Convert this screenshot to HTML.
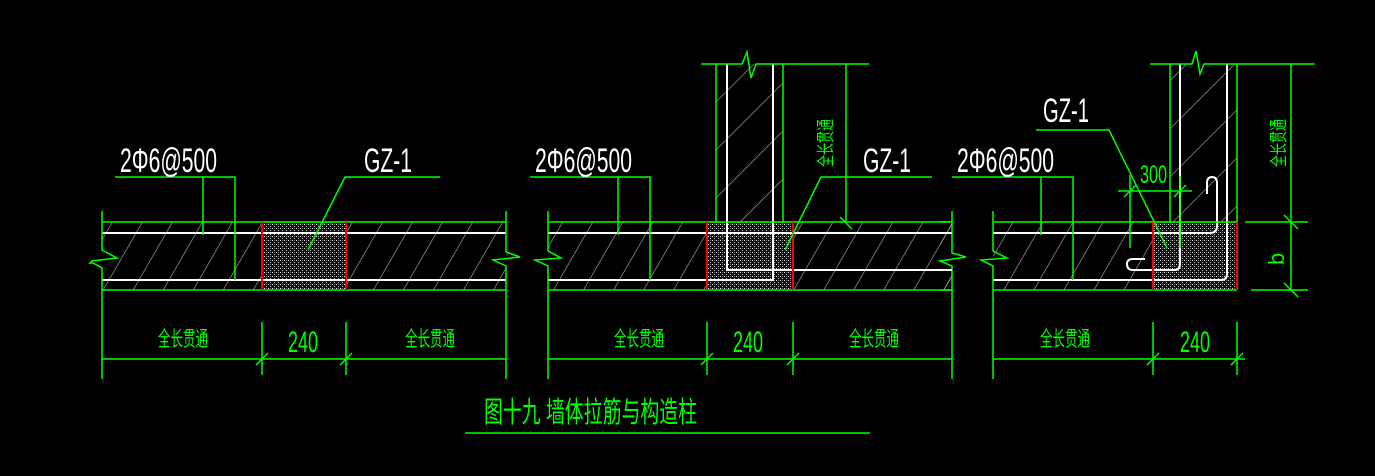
<!DOCTYPE html>
<html><head><meta charset="utf-8">
<style>
html,body{margin:0;padding:0;background:#000;}
svg{display:block;}
.g{stroke:#00ff00;stroke-width:1.5;fill:none;}
.w{stroke:#fff;stroke-width:2;fill:none;}
.r{stroke:#ff0000;stroke-width:2;fill:none;}
.tw{fill:#fff;font-family:"Liberation Sans",sans-serif;}
.tg{fill:#00ff00;font-family:"Liberation Sans","Noto Sans CJK SC",sans-serif;}
.tgl{fill:#00ff00;font-family:"Liberation Sans",sans-serif;}
</style></head>
<body>
<svg width="1375" height="476" viewBox="0 0 1375 476" xmlns="http://www.w3.org/2000/svg">
<defs>
<pattern id="hw" width="26" height="26" patternUnits="userSpaceOnUse" patternTransform="rotate(30)">
<line x1="0" y1="0" x2="0" y2="26" stroke="#a8a8a8" stroke-width="1.3"/>
</pattern>
<pattern id="hc" width="34" height="34" patternUnits="userSpaceOnUse" patternTransform="rotate(45)">
<line x1="0" y1="0" x2="0" y2="34" stroke="#a8a8a8" stroke-width="1.3"/>
</pattern>
<pattern id="st" width="4" height="4" patternUnits="userSpaceOnUse">
<rect width="4" height="4" fill="#111"/>
<rect x="0" y="0" width="1" height="1" fill="#ddd"/>
<rect x="2" y="2" width="1" height="1" fill="#bbb"/>
<rect x="2" y="0" width="1" height="1" fill="#666"/>
</pattern>
</defs>

<!-- ========== PANEL 1 ========== -->
<rect x="102" y="222" width="404" height="68" fill="url(#hw)"/>
<rect x="262" y="222" width="84" height="68" fill="url(#st)"/>
<line class="w" x1="102" y1="233" x2="506" y2="233"/>
<line class="w" x1="102" y1="280" x2="506" y2="280"/>
<line class="g" x1="102" y1="222" x2="506" y2="222"/>
<line class="g" x1="102" y1="290" x2="506" y2="290"/>
<line class="r" x1="262" y1="222" x2="262" y2="290"/>
<line class="r" x1="346" y1="222" x2="346" y2="290"/>
<polyline class="g" points="102,211 102,250 117,258 92,261 90,263 93,263 102,268 102,379"/>
<polyline class="g" points="506,211 506,252 520,257 493,260 506,266 506,379"/>
<line class="g" x1="102" y1="359" x2="506" y2="359"/>
<line class="g" x1="262" y1="322" x2="262" y2="375"/>
<line class="g" x1="346" y1="322" x2="346" y2="375"/>
<line class="g" x1="256" y1="365" x2="268" y2="353"/>
<line class="g" x1="340" y1="365" x2="352" y2="353"/>
<text class="tg" x="158" y="346" font-size="21" textLength="50" lengthAdjust="spacingAndGlyphs">全长贯通</text>
<text class="tg" x="405" y="346" font-size="21" textLength="50" lengthAdjust="spacingAndGlyphs">全长贯通</text>
<text class="tgl" x="288" y="352" font-size="30" textLength="30" lengthAdjust="spacingAndGlyphs">240</text>
<polyline class="g" points="115,177 235,177 235,280"/>
<line class="g" x1="203" y1="177" x2="203" y2="235"/>
<text class="tw" x="120" y="172" font-size="34" textLength="97" lengthAdjust="spacingAndGlyphs">2Φ6@500</text>
<polyline class="g" points="440,177 345,177 308,250"/>
<text class="tw" x="364" y="172" font-size="34" textLength="48" lengthAdjust="spacingAndGlyphs">GZ-1</text>

<!-- ========== PANEL 2 ========== -->
<rect x="548" y="222" width="404" height="68" fill="url(#hw)"/>
<rect x="716" y="64" width="67" height="158" fill="url(#hc)"/>
<rect x="707" y="222" width="86" height="68" fill="url(#st)"/>
<line class="w" x1="548" y1="233" x2="952" y2="233"/>
<polyline class="w" points="548,280 773,280 773,64"/>
<polyline class="w" points="727,64 727,270 952,270"/>
<line class="g" x1="548" y1="222" x2="952" y2="222"/>
<line class="g" x1="548" y1="290" x2="952" y2="290"/>
<line class="r" x1="707" y1="222" x2="707" y2="290"/>
<line class="r" x1="793" y1="222" x2="793" y2="290"/>
<line class="g" x1="716" y1="64" x2="716" y2="222"/>
<line class="g" x1="783" y1="64" x2="783" y2="222"/>
<polyline class="g" points="701,64 742,64 747,52 751,78 756,64 869,64"/>
<line class="g" x1="846" y1="64" x2="846" y2="222"/>
<line class="g" x1="840" y1="217" x2="852" y2="229"/>
<polyline class="g" points="548,211 548,251 561,258 535,260 548,266 548,379"/>
<polyline class="g" points="952,211 952,253 966,257 940,261 952,266 952,379"/>
<line class="g" x1="548" y1="359" x2="952" y2="359"/>
<line class="g" x1="707" y1="322" x2="707" y2="375"/>
<line class="g" x1="793" y1="322" x2="793" y2="375"/>
<line class="g" x1="701" y1="365" x2="713" y2="353"/>
<line class="g" x1="787" y1="365" x2="799" y2="353"/>
<text class="tg" x="614" y="346" font-size="21" textLength="50" lengthAdjust="spacingAndGlyphs">全长贯通</text>
<text class="tg" x="849" y="346" font-size="21" textLength="50" lengthAdjust="spacingAndGlyphs">全长贯通</text>
<text class="tgl" x="733" y="352" font-size="30" textLength="30" lengthAdjust="spacingAndGlyphs">240</text>
<polyline class="g" points="530,177 650,177 650,280"/>
<line class="g" x1="618" y1="177" x2="618" y2="235"/>
<text class="tw" x="535" y="172" font-size="34" textLength="97" lengthAdjust="spacingAndGlyphs">2Φ6@500</text>
<polyline class="g" points="932,177 821,177 785,250"/>
<text class="tw" x="863" y="172" font-size="34" textLength="48" lengthAdjust="spacingAndGlyphs">GZ-1</text>
<text class="tg" font-size="18" transform="translate(832,167) rotate(-90)" textLength="48" lengthAdjust="spacingAndGlyphs">全长贯通</text>

<!-- ========== PANEL 3 ========== -->
<rect x="993" y="222" width="244" height="68" fill="url(#hw)"/>
<rect x="1170" y="64" width="67" height="158" fill="url(#hc)"/>
<rect x="1153" y="222" width="84" height="68" fill="url(#st)"/>
<rect x="940" y="222" width="12" height="68" fill="url(#hw)"/>
<line class="w" x1="940" y1="233" x2="952" y2="233"/>
<line class="w" x1="940" y1="270" x2="952" y2="270"/>
<path class="w" d="M993,233 H1210 Q1217,233 1217,226 V183 Q1217,177 1212,177 Q1207,177 1207,183 V194"/>
<path class="w" d="M1180,64 V264 Q1180,270 1174,270 H1133 Q1127,270 1127,264 Q1127,259 1133,259 H1145"/>
<path class="w" d="M1227,64 V274 Q1227,280 1221,280 H993"/>
<line class="g" x1="993" y1="222" x2="1237" y2="222"/>
<line class="g" x1="993" y1="290" x2="1237" y2="290"/>
<line class="g" x1="940" y1="222" x2="952" y2="222"/>
<line class="g" x1="940" y1="290" x2="952" y2="290"/>
<line class="r" x1="1153" y1="222" x2="1153" y2="290"/>
<line class="r" x1="1237" y1="222" x2="1237" y2="290"/>
<line class="g" x1="1170" y1="64" x2="1170" y2="222"/>
<line class="g" x1="1237" y1="64" x2="1237" y2="222"/>
<polyline class="g" points="1150,64 1192,64 1196,51 1200,74 1204,64 1315,64"/>
<line class="g" x1="1291" y1="64" x2="1291" y2="290"/>
<line class="g" x1="1245" y1="222" x2="1308" y2="222"/>
<line class="g" x1="1251" y1="290" x2="1308" y2="290"/>
<line class="g" x1="1284" y1="215" x2="1298" y2="229"/>
<line class="g" x1="1284" y1="283" x2="1298" y2="297"/>
<text class="tgl" font-size="22" transform="translate(1284,265) rotate(-90)">b</text>
<text class="tg" font-size="18" transform="translate(1285,167) rotate(-90)" textLength="48" lengthAdjust="spacingAndGlyphs">全长贯通</text>
<polyline class="g" points="993,211 993,251 1007,258 981,260 993,266 993,379"/>
<line class="g" x1="1118" y1="191" x2="1192" y2="191"/>
<line class="g" x1="1130" y1="175" x2="1130" y2="248"/>
<line class="g" x1="1180" y1="176" x2="1180" y2="248"/>
<line class="g" x1="1124" y1="197" x2="1136" y2="185"/>
<line class="g" x1="1174" y1="197" x2="1186" y2="185"/>
<text class="tgl" x="1140" y="183" font-size="25" textLength="27" lengthAdjust="spacingAndGlyphs">300</text>
<polyline class="g" points="1036,130 1109,130 1167,248"/>
<text class="tw" x="1043" y="122" font-size="34" textLength="46" lengthAdjust="spacingAndGlyphs">GZ-1</text>
<polyline class="g" points="952,177 1073,177 1073,280"/>
<line class="g" x1="1041" y1="177" x2="1041" y2="235"/>
<text class="tw" x="957" y="172" font-size="34" textLength="97" lengthAdjust="spacingAndGlyphs">2Φ6@500</text>
<line class="g" x1="993" y1="359" x2="1245" y2="359"/>
<line class="g" x1="1153" y1="322" x2="1153" y2="375"/>
<line class="g" x1="1237" y1="322" x2="1237" y2="375"/>
<line class="g" x1="1147" y1="365" x2="1159" y2="353"/>
<line class="g" x1="1231" y1="365" x2="1243" y2="353"/>
<text class="tg" x="1040" y="346" font-size="21" textLength="50" lengthAdjust="spacingAndGlyphs">全长贯通</text>
<text class="tgl" x="1180" y="352" font-size="30" textLength="30" lengthAdjust="spacingAndGlyphs">240</text>

<!-- Title -->
<text class="tg" x="484" y="422" font-size="29" textLength="213" lengthAdjust="spacingAndGlyphs">图十九  墙体拉筋与构造柱</text>
<line class="g" x1="465" y1="433" x2="870" y2="433"/>
</svg>
</body></html>
